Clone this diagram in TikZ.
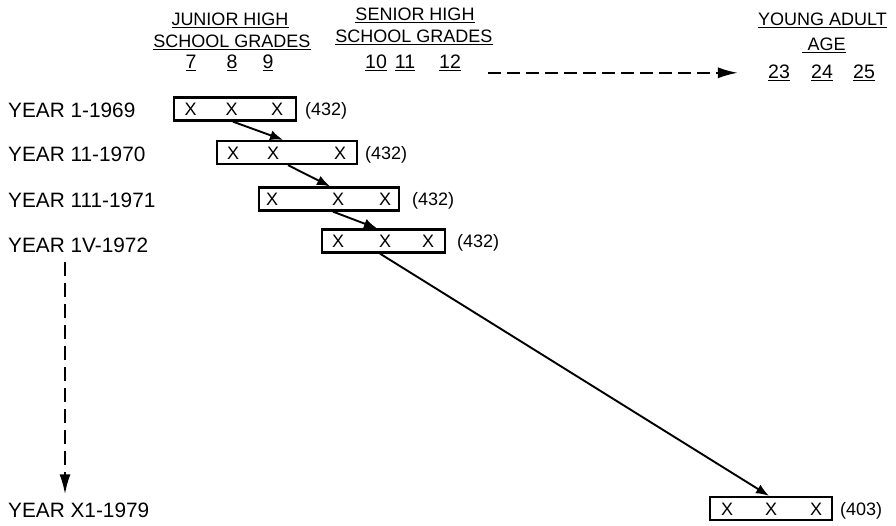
\documentclass[tikz,border=0pt]{standalone}
\usepackage{fontspec}
\setmainfont{Liberation Sans}
\usetikzlibrary{arrows.meta,calc}
\newcommand\ulx[1]{\setbox0\hbox{#1}\leavevmode\rlap{\rule[-3.2pt]{\wd0}{1.4pt}}\box0}
\begin{document}
\begin{tikzpicture}[x=1pt,y=-1pt,
  hdr/.style={font=\fontsize{18}{21}\selectfont,inner sep=0pt,anchor=base},
  grd/.style={font=\fontsize{19.5}{21}\selectfont,inner sep=0pt,anchor=base},
  yearlab/.style={font=\fontsize{20.8}{23}\selectfont,inner sep=0pt,anchor=base west},
  rowbox/.style={draw,line width=2.3pt,minimum height=23pt,inner sep=0pt},
  xmark/.style={font=\fontsize{18}{20}\selectfont,inner sep=0pt,anchor=base},
  cnt/.style={font=\fontsize{18}{20}\selectfont,inner sep=0pt,anchor=base west},
  arr/.style={line width=1.9pt,-{Latex[length=13pt,width=10pt]}},
  dasharr/.style={line width=2pt,dash pattern=on 13pt off 6pt,-{Latex[length=20pt,width=11pt]}}]
\useasboundingbox (0,0) rectangle (896,525);
% headers
\node[hdr] (jh1) at (230,25) {\ulx{JUNIOR HIGH}};
\node[hdr] (jh2) at (232,47) {\ulx{SCHOOL GRADES}};
\node[hdr] (sh1) at (415,20) {\ulx{SENIOR HIGH}};
\node[hdr] (sh2) at (414,42) {\ulx{SCHOOL GRADES}};
\node[hdr] (ya1) at (822.5,25) {\ulx{YOUNG ADULT}};
\node[hdr] (ya2) at (823.5,50) {\ulx{\hspace*{6pt}AGE}};
\node[grd] (g7) at (191,68) {\ulx{7}};
\node[grd] (g8) at (232,68) {\ulx{8}};
\node[grd] (g9) at (268,68) {\ulx{9}};
\node[grd] (g10) at (376,68) {\ulx{10}};
\node[grd] (g11) at (405,68) {\ulx{11}};
\node[grd] (g12) at (450,68) {\ulx{12}};
\node[grd] (g23) at (779,78) {\ulx{23}};
\node[grd] (g24) at (822,78) {\ulx{24}};
\node[grd] (g25) at (864,78) {\ulx{25}};
\coordinate (dstart) at ($(g12.base east)+(27,-6)$);
\draw[dasharr] (dstart |- g23.center) -- ($(g23.west |- g23.center)+(-30,0)$);
% year labels
\node[yearlab] (l1) at (8,117) {YEAR 1-1969};
\node[yearlab] (l2) at (8,161) {YEAR 11-1970};
\node[yearlab] (l3) at (8,207) {YEAR 111-1971};
\node[yearlab] (l4) at (8,252) {YEAR 1V-1972};
\node[yearlab] (l5) at (8,517) {YEAR X1-1979};
% boxes
\node[rowbox,minimum width=122pt] (b1) at (235,109) {};
\node[rowbox,minimum width=140pt] (b2) at (287,152.5) {};
\node[rowbox,minimum width=140pt] (b3) at (329,199) {};
\node[rowbox,minimum width=123pt] (b4) at (383.5,241) {};
\node[rowbox,minimum width=122pt] (b5) at (771,508.5) {};
\foreach \xx [count=\i] in {190.6,231.7,277}{\node[xmark] (x1\i) at (\xx,115.5) {X};}
\foreach \xx [count=\i] in {233,273,340}{\node[xmark] (x2\i) at (\xx,159) {X};}
\foreach \xx [count=\i] in {272,338,385}{\node[xmark] (x3\i) at (\xx,205.5) {X};}
\foreach \xx [count=\i] in {338,385,428}{\node[xmark] (x4\i) at (\xx,247.5) {X};}
\foreach \xx [count=\i] in {727,771,816}{\node[xmark] (x5\i) at (\xx,515) {X};}
\node[cnt] (c1) at (305,115) {(432)};
\node[cnt] (c2) at (365,159) {(432)};
\node[cnt] (c3) at (412,205.5) {(432)};
\node[cnt] (c4) at (457,247.5) {(432)};
\node[cnt] (c5) at (840,515) {(403)};
% arrows
\draw[arr] (b1.south -| 233,0) -- (b2.north -| 283,0);
\draw[arr] (b2.south -| 288,0) -- (b3.north -| 330,0);
\draw[arr] (b3.south -| 333,0) -- (b4.north -| 377,0);
\draw[arr] (b4.south -| 380,0) -- (b5.north -| 769,0);
\draw[dasharr,dash pattern=on 14pt off 7pt] ($(l4.south -| 65,0)+(0,10)$) -- ($(l5.north -| 65,0)+(0,-8)$);
\end{tikzpicture}
\end{document}
